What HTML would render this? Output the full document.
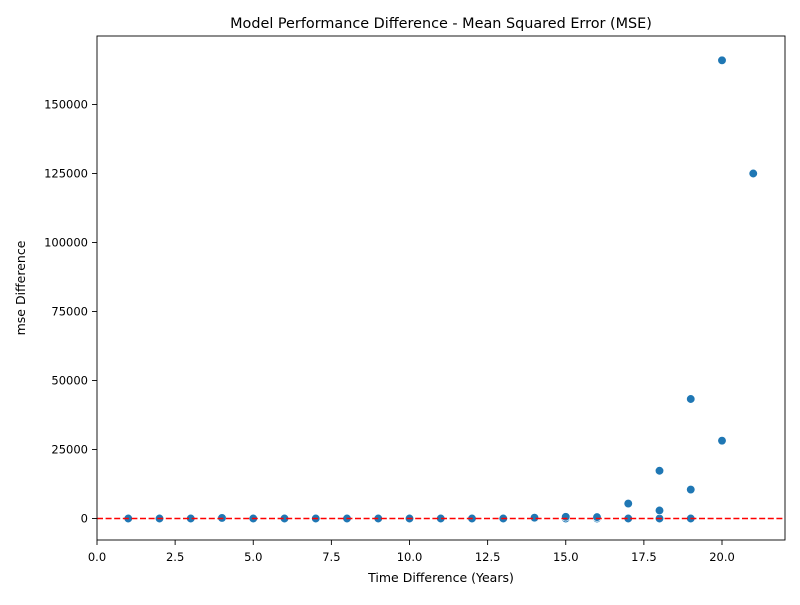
<!DOCTYPE html>
<html><head><meta charset="utf-8"><style>
body{margin:0;background:#fff;font-family:"Liberation Sans","DejaVu Sans",sans-serif}
text{font-family:"DejaVu Sans","Liberation Sans",sans-serif}
</style></head><body>
<svg id="chart" width="800" height="600" xmlns="http://www.w3.org/2000/svg">
<rect width="800" height="600" fill="#fff"/>
<text x="441" y="28" text-anchor="middle" font-size="14.4">Model Performance Difference - Mean Squared Error (MSE)</text>
<g id="grid"></g>
<g id="pts"></g>
<line id="zl" x1="97" x2="785" stroke="#ff0000" stroke-width="1.6" stroke-dasharray="6,2.6"/>
<rect x="97" y="36" width="688" height="504" fill="none" stroke="#000" stroke-width="0.9"/>
<text x="441" y="582" text-anchor="middle" font-size="12.5">Time Difference (Years)</text>
<text transform="translate(25,288) rotate(-90)" text-anchor="middle" font-size="12.5">mse Difference</text>
</svg>
<script>
const xs=[1,2,3,4,5,6,7,8,9,10,11,12,13,14,15,16,17,18,19,20,21,19,20,18,19,17,18,15,16,14,4];
const ys=[0,0,0,0,0,0,0,0,0,0,0,0,0,100,0,0,0,0,0,166000,125000,43300,28200,17300,10500,5400,2900,600,500,300,200];
const xTicks=[0,2.5,5,7.5,10,12.5,15,17.5,20];
const xTickLabels=["0.0","2.5","5.0","7.5","10.0","12.5","15.0","17.5","20.0"];
const yTicks=[0,25000,50000,75000,100000,125000,150000];
const yTickLabels=["0","25000","50000","75000","100000","125000","150000"];
const X=v=>97+v*31.25, Y=v=>518.5-v*0.00276;
const NS="http://www.w3.org/2000/svg";
const g=document.getElementById('grid'), p=document.getElementById('pts');
function mk(t,a,par){const e=document.createElementNS(NS,t);for(const k in a)e.setAttribute(k,a[k]);par.appendChild(e);return e;}
xTicks.forEach((v,i)=>{
 const l=mk('line',{x1:X(v),x2:X(v),y1:540,y2:545,stroke:'#000','stroke-width':0.9},g);
 
 
 const t=mk('text',{x:X(v),y:561,'text-anchor':'middle','font-size':11.5},g);t.textContent=xTickLabels[i];
 
 
});
yTicks.forEach((v,i)=>{
 const l=mk('line',{x1:92,x2:97,y1:Y(v),y2:Y(v),stroke:'#000','stroke-width':0.9},g);
 
 
 const t=mk('text',{x:88,y:Y(v)+4,'text-anchor':'end','font-size':11.5},g);t.textContent=yTickLabels[i];
 
 
});
xs.forEach((x,i)=>{
 const c=mk('circle',{cx:X(x),cy:Y(ys[i]),r:4.3,fill:'#1f77b4',stroke:'#fff','stroke-width':0.7},p);
 
 
});
const z=document.getElementById('zl');z.setAttribute('y1',Y(0));z.setAttribute('y2',Y(0));
</script>
</body></html>
